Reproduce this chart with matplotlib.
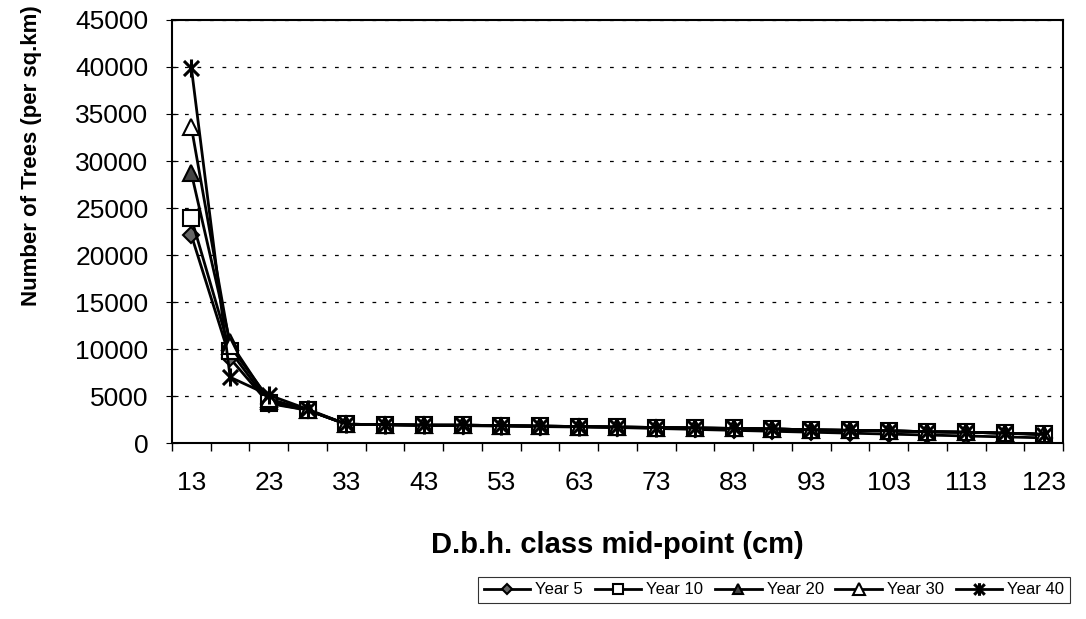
import matplotlib.pyplot as plt
from matplotlib.path import Path
import numpy as np

plt.rcParams['font.family'] = ['Liberation Sans', 'DejaVu Sans']

# D.b.h. class mid-points (cm)
dbh = [13, 18, 23, 28, 33, 38, 43, 48, 53, 58, 63, 68, 73, 78, 83, 88, 93, 98, 103, 108, 113, 118, 123]

year5 = [22100, 9000, 4200, 3500, 2000, 1950, 1900, 1850, 1800, 1750, 1700, 1650,
         1550, 1450, 1350, 1250, 1150, 1050, 950, 850, 750, 650, 550]
year10 = [23900, 9800, 4300, 3500, 2000, 1950, 1900, 1900, 1850, 1800, 1750, 1700,
          1650, 1600, 1550, 1500, 1400, 1350, 1300, 1200, 1150, 1050, 950]
year20 = [28700, 10700, 4500, 3500, 2000, 1950, 1900, 1900, 1850, 1800, 1750, 1700,
          1650, 1600, 1550, 1500, 1400, 1350, 1300, 1200, 1150, 1050, 900]
year30 = [33600, 10300, 4700, 3500, 2000, 1950, 1900, 1900, 1850, 1800, 1750, 1700,
          1650, 1600, 1550, 1500, 1400, 1350, 1300, 1200, 1150, 1050, 950]
year40 = [39900, 7000, 5100, 3600, 2000, 1950, 1900, 1900, 1850, 1800, 1750, 1700,
          1650, 1600, 1550, 1500, 1400, 1350, 1300, 1200, 1150, 1050, 900]

# Excel-style star marker: an X with a vertical bar
star = Path([(-1, -1), (1, 1), (-1, 1), (1, -1), (0, -1.2), (0, 1.2)],
            [Path.MOVETO, Path.LINETO, Path.MOVETO, Path.LINETO, Path.MOVETO, Path.LINETO])

series = [
    ("Year 5", year5, dict(marker="D", markersize=8, markerfacecolor="#666666")),
    ("Year 10", year10, dict(marker="s", markersize=11, markerfacecolor="white")),
    ("Year 20", year20, dict(marker="^", markersize=11, markerfacecolor="#444444")),
    ("Year 30", year30, dict(marker="^", markersize=12, markerfacecolor="white")),
    ("Year 40", year40, dict(marker=star, markersize=13, markeredgewidth=2.2)),
]

fig = plt.figure(figsize=(10.86, 6.19), dpi=100)
ax = fig.add_axes([0.1584, 0.2843, 0.8204, 0.6834])

x = np.arange(len(dbh))
for name, vals, style in series:
    ax.plot(x, vals, color="black", linewidth=2, markeredgecolor="black",
            markeredgewidth=style.pop("markeredgewidth", 1.5), label=name, **style)

ax.set_ylim(0, 45000)
ax.set_yticks(range(0, 45001, 5000))
ax.set_xlim(-0.5, len(dbh) - 0.5)
ax.set_xticks(x[::2])
ax.set_xticklabels([str(d) for d in dbh[::2]])
ax.set_xticks(np.arange(-0.5, len(dbh), 1), minor=True)
ax.tick_params(axis="x", which="major", length=0, pad=20, labelsize=19)
ax.tick_params(axis="x", which="minor", length=6, direction="out", width=1)
ax.tick_params(axis="y", labelsize=19, length=8, direction="inout", pad=13)

ax.grid(axis="y", linestyle=(0, (3, 7)), color="black", linewidth=0.9)
for s in ax.spines.values():
    s.set_linewidth(1.5)
    s.set_color("black")

ax.set_xlabel("D.b.h. class mid-point (cm)", fontsize=21, fontweight="bold", labelpad=26)
ax.set_ylabel("Number of Trees (per sq.km)", fontsize=16, fontweight="bold")
ax.yaxis.set_label_coords(-0.146, 0.68)

leg = fig.legend(loc="center", bbox_to_anchor=(0.7127, 0.047), ncol=5,
                 fontsize=12, frameon=True, fancybox=False, edgecolor="black",
                 handlelength=2.8, handletextpad=0.3, columnspacing=0.7,
                 borderpad=0.35, markerscale=0.7)
leg.get_frame().set_linewidth(0.8)

fig.savefig("out.png", dpi=100)
